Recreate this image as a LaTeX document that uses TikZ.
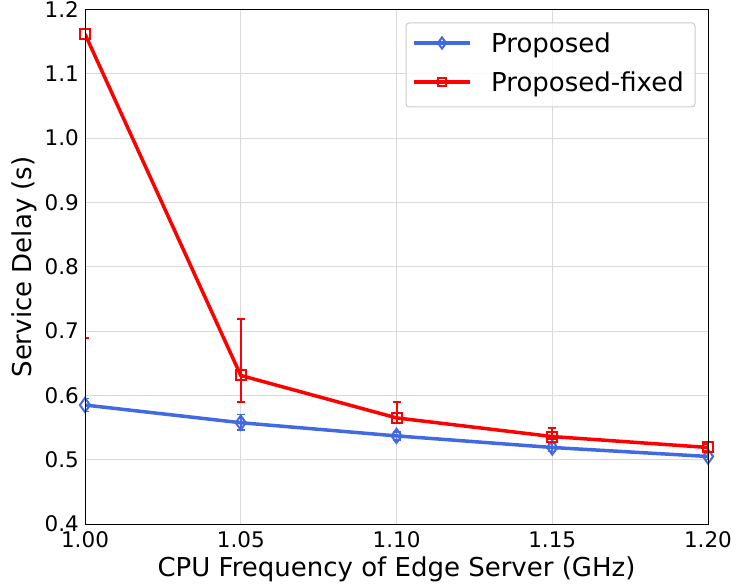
\documentclass[tikz,border=0pt]{standalone}
\usepackage{fontspec}
\setmainfont{DejaVu Sans}
\usetikzlibrary{shapes.geometric}

\definecolor{propblue}{RGB}{65,105,225}
\definecolor{gridgray}{RGB}{218,218,218}
\definecolor{leggray}{RGB}{204,204,204}

\begin{document}
\begin{tikzpicture}[x=1pt, y=1pt, every node/.style={inner sep=0pt},
ticklab/.style={font=\fontsize{21.5}{25}\selectfont},
biglab/.style={font=\fontsize{26}{30}\selectfont},
bluemark/.style={draw=propblue, diamond, line width=2pt, minimum width=11pt, minimum height=15pt},
redmark/.style={draw=red, rectangle, line width=2pt, minimum size=10pt},
bluebar/.style={propblue, line width=1.5pt},
redbar/.style={red, line width=2pt},
gridline/.style={gridgray, line width=1pt}]
\useasboundingbox (0,0) rectangle (736,588);
%================================================================
% Axis (data units)
\begin{scope}[shift={(-3030pt,-193.2pt)}, x=3115pt, y=643pt]
% --------------------------------
% Grid
\foreach \x in {1.05,1.10,1.15}
  \draw[gridline] (\x,0.4) -- (\x,1.2);
\foreach \y in {0.5,0.6,0.7,0.8,0.9,1.0,1.1}
  \draw[gridline] (1,\y) -- (1.2,\y);

% --------------------------------
% X-Axis labels
\foreach \x/\lab in {1.00/1.00, 1.05/1.05, 1.10/1.10, 1.15/1.15, 1.20/1.20}
  \node[ticklab, anchor=base, yshift=-23pt] (xt\lab) at (\x,0.4) {\lab};
\node[biglab, anchor=base] (xlabel) at (1.1,0.4) [yshift=-52.7pt] {CPU Frequency of Edge Server (GHz)};

% --------------------------------
% Y-Axis labels
\foreach \y in {0.4,0.5,0.6,0.7,0.8,0.9,1.0,1.1,1.2}
  \node[ticklab, anchor=base east, xshift=-6pt, yshift=-7.8pt] (yt\y) at (1,\y) {\y};

%================================================================
% Data
\coordinate (b1) at (1.00,0.585);
\coordinate (b2) at (1.05,0.5575);
\coordinate (b3) at (1.10,0.537);
\coordinate (b4) at (1.15,0.519);
\coordinate (b5) at (1.20,0.505);

\coordinate (r1) at (1.00,1.162);
\coordinate (r2) at (1.05,0.631);
\coordinate (r3) at (1.10,0.565);
\coordinate (r4) at (1.15,0.536);
\coordinate (r5) at (1.20,0.519);

\begin{scope}
\clip (1,0.4) rectangle (1.2,1.2);
% Proposed
\draw[propblue, line width=3.5pt] (b1) -- (b2) -- (b3) -- (b4) -- (b5);
\foreach \x/\lo/\hi in {1.00/0.575/0.595, 1.05/0.546/0.570, 1.10/0.531/0.543, 1.15/0.513/0.525, 1.20/0.500/0.510}{
  \draw[bluebar] (\x,\lo) -- (\x,\hi);
  \draw[bluebar] ([xshift=-4pt]\x,\lo) -- ([xshift=4pt]\x,\lo);
  \draw[bluebar] ([xshift=-4pt]\x,\hi) -- ([xshift=4pt]\x,\hi);
}
\end{scope}
\foreach \i in {1,...,5}
  \node[bluemark] (bm\i) at (b\i) {};

\begin{scope}
\clip (1,0.4) rectangle (1.2,1.2);
% Proposed-fixed
\draw[red, line width=3.5pt] (r1) -- (r2) -- (r3) -- (r4) -- (r5);
\foreach \x/\lo/\hi in {1.00/0.689/1.635, 1.05/0.590/0.719, 1.10/0.557/0.590, 1.15/0.532/0.549, 1.20/0.514/0.524}{
  \draw[redbar] (\x,\lo) -- (\x,\hi);
  \draw[redbar] ([xshift=-4pt]\x,\lo) -- ([xshift=4pt]\x,\lo);
  \draw[redbar] ([xshift=-4pt]\x,\hi) -- ([xshift=4pt]\x,\hi);
}
\end{scope}
\foreach \i in {1,...,5}
  \node[redmark] (rm\i) at (r\i) {};

% --------------------------------
% Frame
\draw[black, line width=0.8pt] (1,0.4) rectangle (1.2,1.2);
\end{scope}

% Y label
\node[biglab, rotate=90, anchor=base] (ylabel) at (31.5,321) {Service Delay (s)};

%================================================================
% Legend
\draw[leggray, fill=white, fill opacity=0.8, line width=1pt, rounded corners=3pt] (406,481) rectangle (695,565);

% Proposed
\draw[propblue, line width=3.5pt] (414,545) -- (470,545);
\node[bluemark, minimum width=9pt, minimum height=12pt] (legb) at (442,545) {};
\node[biglab, anchor=base west] (legbt) at (491,535) {Proposed};

% Proposed-fixed
\draw[red, line width=3.5pt] (414,506) -- (470,506);
\node[redmark, minimum size=8pt] (legr) at (442,506) {};
\node[biglab, anchor=base west] (legrt) at (491,496) {Proposed-fixed};

%================================================================
\end{tikzpicture}
\end{document}
